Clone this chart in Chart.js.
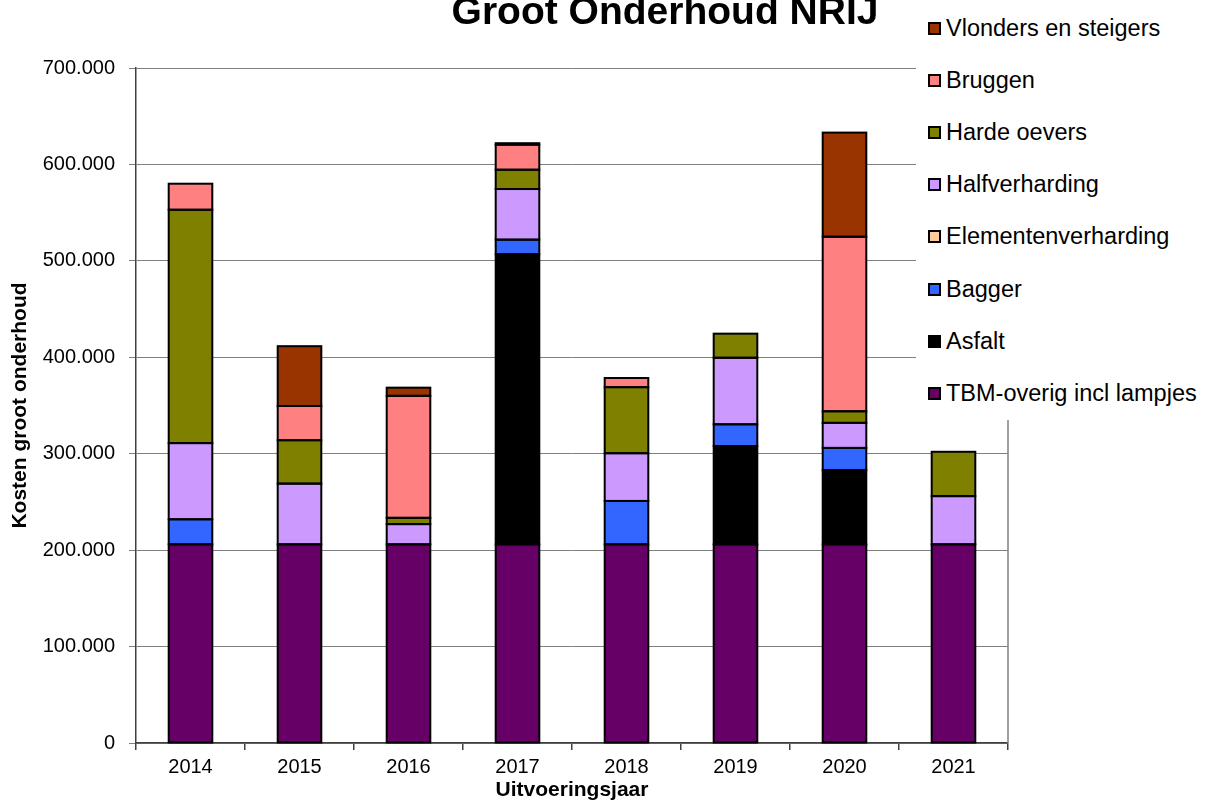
<!DOCTYPE html>
<html>
<head>
<meta charset="utf-8">
<script src="https://cdn.jsdelivr.net/npm/chart.js"></script>
<style>
  html, body { margin: 0; padding: 0; background: #fff; }
  #wrap { position: relative; width: 1206px; height: 805px; overflow: hidden; }
  #legend {
    position: absolute; left: 916px; top: 0; width: 290px; height: 420px;
    background: #fff; color: #000;
    font-family: "Liberation Sans", Arial, sans-serif; font-size: 23.5px;
  }
  .item { position: absolute; left: 12px; height: 30px; display: flex; align-items: center; white-space: nowrap; }
  .swatch { width: 13px; height: 13px; box-sizing: border-box; border: 2px solid #000; margin-right: 5px; }
</style>
</head>
<body>
<div id="wrap">
  <canvas id="chart" width="1206" height="805"></canvas>
  <div id="legend"></div>
</div>
<script>
// gegevens (euro's)
const chartTitle = 'Groot Onderhoud NRIJ';
const years = ['2014', '2015', '2016', '2017', '2018', '2019', '2020', '2021'];

const tbmOverig = [206000, 206000, 206000, 206000, 206000, 206000, 206000, 206000];
const asfalt = [0, 0, 0, 301000, 0, 102000, 77000, 0];
const bagger = [26000, 0, 0, 15000, 45000, 22500, 23000, 0];
const elementenverharding = [0, 0, 0, 0, 0, 0, 0, 0];
const halfverharding = [79000, 63000, 21000, 52500, 49500, 69000, 26000, 50000];
const hardeOevers = [242000, 45000, 6500, 20000, 68500, 25000, 12000, 46000];
const bruggen = [27000, 35500, 126500, 26000, 9500, 0, 181000, 0];
const vlonders = [0, 62000, 8500, 1500, 0, 0, 108000, 0];

const yTicks = [0, 100000, 200000, 300000, 400000, 500000, 600000, 700000];

const FONT = '"Liberation Sans", Arial, sans-serif';

const series = [
  { label: 'TBM-overig incl lampjes', data: tbmOverig, color: '#660066' },
  { label: 'Asfalt', data: asfalt, color: '#000000' },
  { label: 'Bagger', data: bagger, color: '#3366FF' },
  { label: 'Elementenverharding', data: elementenverharding, color: '#FFCC99' },
  { label: 'Halfverharding', data: halfverharding, color: '#CC99FF' },
  { label: 'Harde oevers', data: hardeOevers, color: '#808000' },
  { label: 'Bruggen', data: bruggen, color: '#FF8080' },
  { label: 'Vlonders en steigers', data: vlonders, color: '#993300' }
];

function formatNl(v) {
  return String(v).replace(/\B(?=(\d{3})+(?!\d))/g, '.');
}

// titel staat half buiten beeld, zoals in het origineel
const titlePlugin = {
  id: 'fixedTitle',
  afterDraw(chart) {
    const ctx = chart.ctx;
    ctx.save();
    ctx.font = 'bold 39px ' + FONT;
    ctx.fillStyle = '#000';
    ctx.textAlign = 'center';
    ctx.textBaseline = 'alphabetic';
    ctx.fillText(chartTitle, 665, 24);
    ctx.restore();
  }
};

// rechterrand van het plotvlak
const frameRight = {
  id: 'frameRight',
  beforeDatasetsDraw(chart) {
    const { ctx, chartArea } = chart;
    ctx.save();
    ctx.strokeStyle = '#808080';
    ctx.lineWidth = 1.5;
    ctx.beginPath();
    ctx.moveTo(chartArea.right, chartArea.top);
    ctx.lineTo(chartArea.right, chartArea.bottom);
    ctx.stroke();
    ctx.restore();
  }
};

// zwarte omlijning over de randen van elk segment (zoals Excel)
const barOutline = {
  id: 'barOutline',
  afterDatasetsDraw(chart) {
    const ctx = chart.ctx;
    ctx.save();
    ctx.strokeStyle = '#000';
    ctx.lineWidth = 2;
    chart.data.datasets.forEach((ds, i) => {
      chart.getDatasetMeta(i).data.forEach((bar, j) => {
        if (ds.data[j] == null) return;
        const p = bar.getProps(['x', 'y', 'base', 'width'], true);
        ctx.strokeRect(p.x - p.width / 2, Math.min(p.y, p.base), p.width, Math.abs(p.base - p.y));
      });
    });
    ctx.restore();
  }
};

const ctx = document.getElementById('chart').getContext('2d');
const chart = new Chart(ctx, {
  type: 'bar',
  data: {
    labels: years,
    datasets: series.map(s => ({
      label: s.label,
      data: s.data.map(v => (v === 0 ? null : v)),
      backgroundColor: s.color,
      borderWidth: 0,
      barPercentage: 0.4,
      categoryPercentage: 1
    }))
  },
  options: {
    responsive: false,
    devicePixelRatio: 1,
    animation: false,
    layout: { padding: { top: 68, right: 198, left: 0, bottom: 0 } },
    plugins: {
      legend: { display: false },
      title: { display: false },
      tooltip: { enabled: false }
    },
    scales: {
      x: {
        stacked: true,
        grid: { offset: true, drawOnChartArea: false, drawTicks: true, tickLength: 7, color: '#404040', lineWidth: 1.5 },
        border: { display: true, color: '#404040', width: 1.5 },
        ticks: { color: '#000', font: { family: FONT, size: 20 }, padding: 5 },
        title: { display: true, text: 'Uitvoeringsjaar', color: '#000', font: { family: FONT, size: 21, weight: 'bold' }, padding: { top: 0, bottom: 2.5 } },
        afterFit(scale) { scale.height = 62; }
      },
      y: {
        stacked: true,
        min: yTicks[0],
        max: yTicks[yTicks.length - 1],
        afterBuildTicks(scale) { scale.ticks = yTicks.map(v => ({ value: v })); },
        grid: { color: '#808080', lineWidth: 1, tickLength: 7, drawTicks: true },
        border: { display: true, color: '#404040', width: 1.5 },
        ticks: { color: '#000', font: { family: FONT, size: 20 }, padding: 14, callback: v => formatNl(v) },
        title: { display: true, text: 'Kosten groot onderhoud', color: '#000', font: { family: FONT, size: 21, weight: 'bold' }, padding: { top: 7.5, bottom: 0 } },
        afterFit(scale) { scale.width = 136; }
      }
    }
  },
  plugins: [frameRight, barOutline, titlePlugin]
});

// legenda in omgekeerde volgorde, over het plotvlak heen
const legend = document.getElementById('legend');
series.slice().reverse().forEach((s, i) => {
  const item = document.createElement('div');
  item.className = 'item';
  item.style.top = (28 + i * 52.2 - 15) + 'px';
  const sw = document.createElement('span');
  sw.className = 'swatch';
  sw.style.background = s.color;
  const txt = document.createElement('span');
  txt.textContent = s.label;
  item.appendChild(sw);
  item.appendChild(txt);
  legend.appendChild(item);
});
</script>
</body>
</html>
